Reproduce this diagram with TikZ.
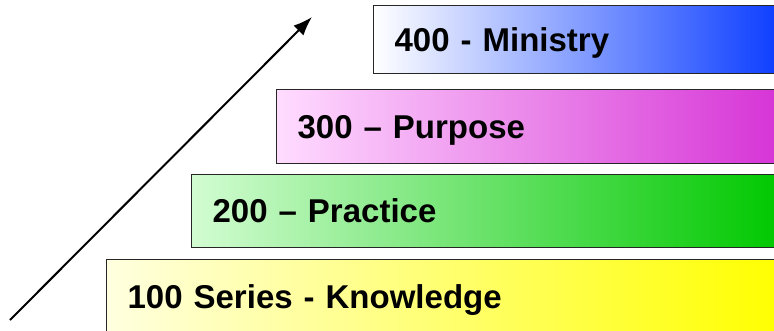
\documentclass[tikz,border=0pt]{standalone}
\usepackage{fontspec}
\setmainfont{Liberation Sans}
\usetikzlibrary{arrows.meta}
\definecolor{tierblue}{HTML}{0A3CFF}
\definecolor{tierpinklight}{HTML}{FFDCFF}
\definecolor{tierpink}{HTML}{D633D6}
\definecolor{tiergreenlight}{HTML}{D2FCD2}
\definecolor{tiergreen}{HTML}{00C800}
\definecolor{tieryellowlight}{HTML}{FFFFE0}
\definecolor{tieryellow}{HTML}{FFFF00}
\tikzstyle{tier}=[rectangle, anchor=north west, draw=black!85, line width=1.2pt, inner xsep=20pt, inner ysep=0pt, text height=23.5pt, text depth=0pt, font=\fontsize{33}{39}\selectfont\bfseries, align=left]

\begin{document}
\begin{tikzpicture}[x=1pt, y=-1pt]

\clip (0, 0) rectangle (774, 330);

\node [tier, left color=white, right color=tierblue, minimum width=410pt, minimum height=68pt, text width=368pt] (T4) at (373, 5) {400 - Ministry};
\node [tier, left color=tierpinklight, right color=tierpink, minimum width=505pt, minimum height=74pt, text width=463pt] (T3) at (276, 89) {300 -- Purpose};
\node [tier, left color=tiergreenlight, right color=tiergreen, minimum width=590pt, minimum height=73pt, text width=548pt] (T2) at (191, 174) {200 -- Practice};
\node [tier, left color=tieryellowlight, right color=tieryellow, minimum width=675pt, minimum height=74pt, text width=633pt] (T1) at (106, 259) {100 Series - Knowledge};

\coordinate (a0) at (10, 320);
\coordinate (a1) at (312, 17);
\draw [line width=2pt, -{Latex[length=19pt, width=14pt]}] (a0) -- (a1);

\end{tikzpicture}
\end{document}
